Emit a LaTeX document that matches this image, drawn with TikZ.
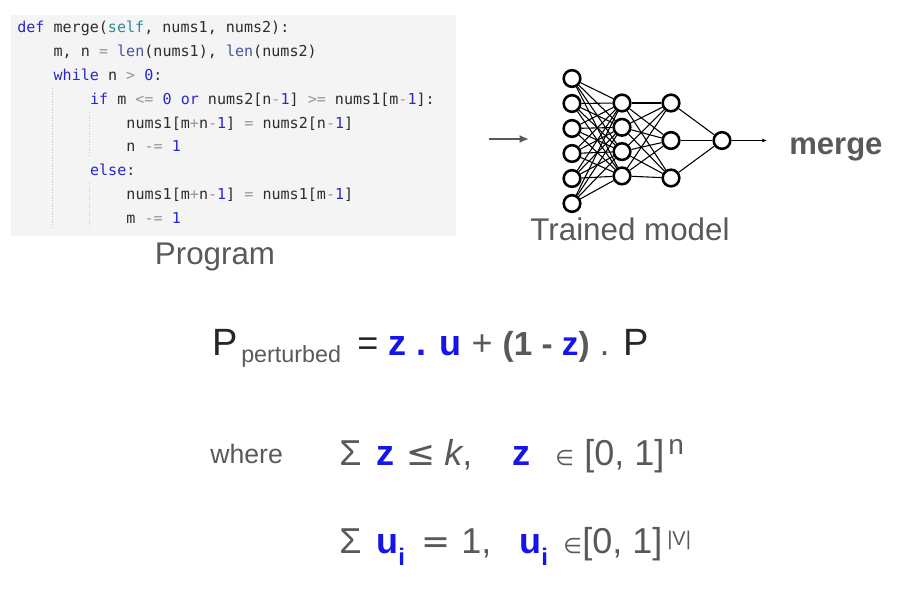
\documentclass[tikz,border=0pt]{standalone}
\usepackage{fontspec}
\setmainfont{Liberation Sans}
\setmonofont{DejaVu Sans Mono}
\newfontfamily\djv{DejaVu Sans}
\usetikzlibrary{arrows.meta}

\definecolor{txtgray}{HTML}{595959}
\definecolor{zblue}{RGB}{20,20,235}
\definecolor{codebg}{HTML}{F4F4F4}
\definecolor{kwblue}{RGB}{40,40,205}
\definecolor{selfteal}{RGB}{40,140,145}
\definecolor{builtin}{RGB}{75,85,160}
\definecolor{opgray}{RGB}{150,150,150}
\definecolor{ident}{RGB}{45,45,45}

\newcommand{\fs}[1]{\fontsize{#1}{#1}\selectfont}
\newcommand{\kw}[1]{\textcolor{kwblue}{#1}}
\newcommand{\nm}[1]{\textcolor{kwblue}{#1}}
\newcommand{\op}[1]{\textcolor{opgray}{#1}}
\newcommand{\bi}[1]{\textcolor{builtin}{#1}}
\newcommand{\slf}[1]{\textcolor{selfteal}{#1}}
\newcommand{\bz}[1]{\textcolor{zblue}{\bfseries #1}}

\tikzset{
  codeline/.style={anchor=base west, inner sep=0pt, text=ident, font=\ttfamily\fs{11.3pt}},
  guide/.style={draw=black!18, line width=0.6pt, dash pattern=on 1pt off 1pt},
  neuron/.style={circle, draw, line width=1.9pt, fill=white, minimum size=12.5pt, inner sep=0pt},
  edge/.style={line width=0.8pt},
  lbl/.style={anchor=base, inner sep=0pt, text=txtgray, font=\fs{23.5pt}},
  eq/.style={anchor=base west, inner sep=0pt, text=txtgray, font=\fs{27pt}},
}

\begin{document}
\begin{tikzpicture}[x=0.75pt, y=-0.75pt]
    \useasboundingbox (0,0) rectangle (899,595);

    % Code box
    \fill[codebg] (11,15) rectangle (456,236);
    \draw[guide] (52,88) -- (52,227);
    \draw[guide] (89,112) -- (89,157);
    \draw[guide] (89,183) -- (89,227);

    % Code lines
    \node[codeline] (c1) at (17,33) {\kw{def} merge(\slf{self}, nums1, nums2):};
    \node[codeline] (c2) at (53.4,56.8) {m, n \op{=} \bi{len}(nums1), \bi{len}(nums2)};
    \node[codeline] (c3) at (53.4,80.6) {\kw{while} n \op{>} \nm{0}:};
    \node[codeline] (c4) at (89.8,104.4) {\kw{if} m \op{<=} \nm{0} \kw{or} nums2[n\op{-}\nm{1}] \op{>=} nums1[m\op{-}\nm{1}]:};
    \node[codeline] (c5) at (126.2,128.2) {nums1[m\op{+}n\op{-}\nm{1}] \op{=} nums2[n\op{-}\nm{1}]};
    \node[codeline] (c6) at (126.2,152) {n \op{-=} \nm{1}};
    \node[codeline] (c7) at (89.8,175.8) {\kw{else}:};
    \node[codeline] (c8) at (126.2,199.6) {nums1[m\op{+}n\op{-}\nm{1}] \op{=} nums1[m\op{-}\nm{1}]};
    \node[codeline] (c9) at (126.2,223.4) {m \op{-=} \nm{1}};

    \node[lbl] (prog) at (215,264) {Program};

    % Network
    \foreach \i in {1,...,6}
        \node[neuron] (a\i) at (572,53.5+25*\i) {};
    \foreach \i in {1,...,4}
        \node[neuron] (b\i) at (622,78.7+24.3*\i) {};
    \foreach \i in {1,2,3}
        \node[neuron] (h\i) at (671,65.5+37.5*\i) {};
    \node[neuron] (o) at (722,140.5) {};

    \foreach \i in {1,...,6}
        \foreach \j in {1,...,4}
            \draw[edge] (a\i) -- (b\j);
    \foreach \i in {1,...,4}
        \foreach \j in {1,2,3}
            \draw[edge] (b\i) -- (h\j);
    \foreach \j in {1,2,3}
        \draw[edge] (h\j) -- (o);

    % Arrows in and out
    \coordinate (inA) at (489,139);
    \coordinate (inB) at (529,139);
    \draw[-{Latex[length=7pt,width=6pt]}, line width=1.5pt, txtgray] (inA) -- (inB);
    \coordinate (outB) at (767,140.5);
    \draw[-{Latex[length=3.5pt,width=3pt]}, line width=0.8pt] (o) -- (outB);

    \node[lbl, anchor=base west, font=\fs{23.3pt}\bfseries] (out) at (789,155) {merge};
    \node[lbl] (model) at (630,241) {Trained model};

    % Perturbed program
    \node[eq, text=black!85, font=\fs{28.5pt}] (pP) at (212,355) {P};
    \node[eq, font=\fs{17.5pt}] (psub) at (241,362) {perturbed};
    \node[eq] (prest) at (357,355) {\textcolor{black!85}{=} \bz{z . u} + {\fs{25pt}\textbf{(1 - \bz{z})}} . {\fs{28.5pt}\textcolor{black!85}{P}}};

    % Constraints
    \node[eq, font=\fs{20pt}] (where) at (210,463) {where};
    \node[eq] (s1) at (339,465) {Σ};
    \node[eq] (z1) at (376,465) {\bz{z}};
    \node[eq, font=\djv\fs{26pt}] (le) at (406,465) {≤};
    \node[eq] (k) at (444,465) {\textit{k},};
    \node[eq] (z2) at (512,465) {\bz{z}};
    \node[eq, font=\djv\fs{16pt}] (in1) at (555,465) {∈};
    \node[eq] (int1) at (584,465) {[0, 1]};
    \node[eq, font=\fs{21pt}] (sup1) at (668,454) {n};

    \node[eq] (s2) at (339,553) {Σ};
    \node[eq] (u1) at (376,553) {\bz{u}\raisebox{-9pt}{\bz{\fs{18pt}i}}};
    \node[eq, font=\djv\fs{26pt}] (eq2) at (421,553) {=};
    \node[eq] (one) at (461,553) {1,};
    \node[eq] (u2) at (519,553) {\bz{u}\raisebox{-9pt}{\bz{\fs{18pt}i}}};
    \node[eq, font=\djv\fs{16pt}] (in2) at (563,553) {∈};
    \node[eq] (int2) at (582,553) {[0, 1]};
    \node[eq, font=\fs{15pt}] (sup2) at (667,545) {|V|};
\end{tikzpicture}
\end{document}
